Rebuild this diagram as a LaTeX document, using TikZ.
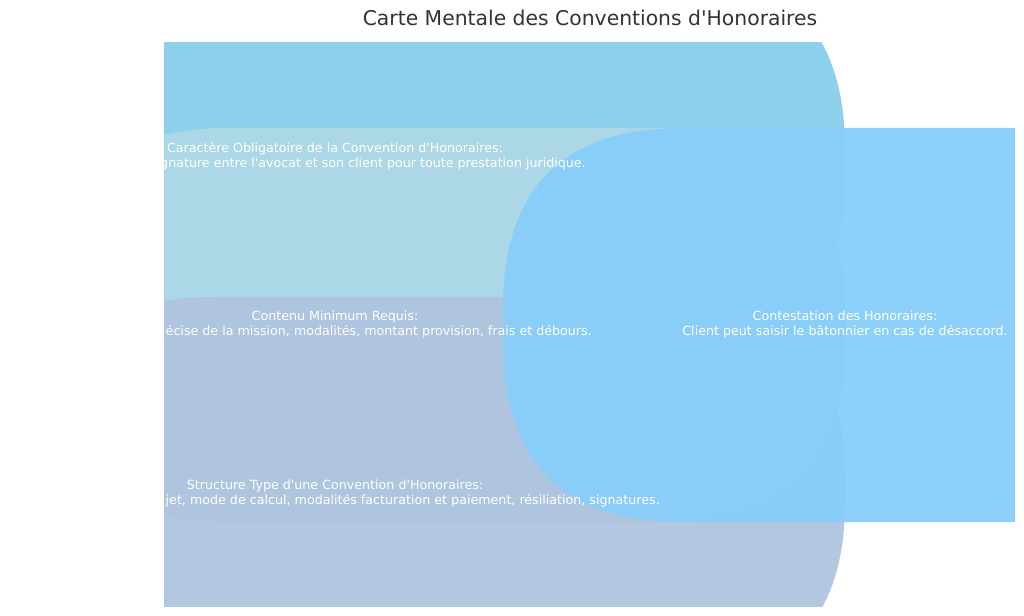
\documentclass[tikz,border=0pt]{standalone}
\usepackage{fontspec}
\setmainfont{DejaVu Sans}[Ligatures=TeXOff]
\usetikzlibrary{positioning}

\definecolor{skyblue}{RGB}{135,206,235}
\definecolor{lightblue}{RGB}{173,216,230}
\definecolor{lightsteelblue}{RGB}{176,196,222}
\definecolor{lightskyblue}{RGB}{135,206,250}
\definecolor{titlegray}{RGB}{51,51,51}

% box with soft (quadratic) corners: left, top, right, bottom, corner size
\newcommand{\softbox}[5]{(#1+#5,#2) -- (#3-#5,#2)
	.. controls (#3-#5/3,#2) and (#3,#2+#5/3) .. (#3,#2+#5) -- (#3,#4-#5)
	.. controls (#3,#4-#5/3) and (#3-#5/3,#4) .. (#3-#5,#4) -- (#1+#5,#4)
	.. controls (#1+#5/3,#4) and (#1,#4-#5/3) .. (#1,#4-#5) -- (#1,#2+#5)
	.. controls (#1,#2+#5/3) and (#1+#5/3,#2) .. cycle}

\tikzset{
	mapbox/.style={fill opacity=0.95},
	maptext/.style={text=white, font=\fontsize{9.5}{11.25}\selectfont, align=center, inner sep=0pt},
	maptitle/.style={text=titlegray, font=\fontsize{15.25}{18}\selectfont, inner sep=0pt},
}

\begin{document}
\begin{tikzpicture}[x=0.75pt,y=-0.75pt]

	\useasboundingbox (0,0) rectangle (1024,616);

	% Title above the plotting area
	\node[maptitle] (Title) at (590,18) {Carte Mentale des Conventions d'Honoraires};

	%%%%%%%%%%%%%%%%%%%%%%%%%%%%%%%%%%%%%%%%%%%%%%%%%%%%%%%%%%%%%%
	% Everything below is cut at the edges of the plotting area
	\begin{scope}
	\clip (164,43) rectangle (1015,606);

	% Boxes, from back to front
	\fill[mapbox, fill=skyblue]        \softbox{-180}{-31}{845}{357}{180};
	\fill[mapbox, fill=lightblue]      \softbox{48}{128}{845}{522}{180};
	\fill[mapbox, fill=lightsteelblue] \softbox{34}{297}{845}{682}{180};
	\fill[mapbox, fill=lightskyblue]   \softbox{503}{128}{1187}{522}{180};

	% Texts: the first line is centred, the second one is cut on the left
	\node[maptext] (Oblig)  at (335,149) {Caractère Obligatoire de la Convention d'Honoraires:};
	\node[maptext, anchor=east] (ObligD) at (586,164) {gnature entre l'avocat et son client pour toute prestation juridique.};

	\node[maptext] (Contenu)  at (335,317) {Contenu Minimum Requis:};
	\node[maptext, anchor=east] (ContenuD) at (592,332) {écise de la mission, modalités, montant provision, frais et débours.};

	\node[maptext] (Struct)  at (335,486) {Structure Type d'une Convention d'Honoraires:};
	\node[maptext, anchor=east] (StructD) at (660,501) {jet, mode de calcul, modalités facturation et paiement, résiliation, signatures.};

	\node[maptext] (Contest) at (845,324.5) {Contestation des Honoraires:\\Client peut saisir le bâtonnier en cas de désaccord.};

	\end{scope}

\end{tikzpicture}
\end{document}
